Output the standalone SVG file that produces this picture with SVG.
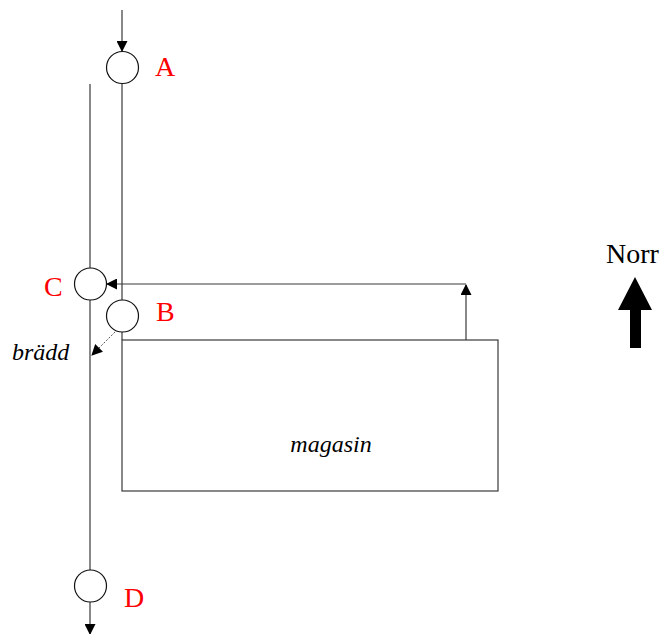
<svg xmlns="http://www.w3.org/2000/svg" width="667" height="634" viewBox="0 0 667 634">
  <style>
    .ln { stroke: #3a3a3a; stroke-width: 1.2; fill: none; }
    .dot { stroke: #555; stroke-width: 1; stroke-dasharray: 2 1.5; fill: none; }
    .node { fill: #fff; stroke: #111; stroke-width: 1.2; }
    .lbl { font-family: "Liberation Serif", "Times New Roman", serif; font-size: 28px; fill: #ff0000; }
    .it { font-family: "Liberation Serif", "Times New Roman", serif; font-size: 24px; font-style: italic; fill: #000; }
    .norr { font-family: "Liberation Serif", "Times New Roman", serif; font-size: 28px; fill: #000; }
  </style>
  <defs>
    <marker id="ah" markerWidth="11" markerHeight="11" refX="10" refY="5.5" orient="auto" markerUnits="userSpaceOnUse">
      <path d="M0,0 L11,5.5 L0,11 Z" fill="#000"/>
    </marker>
  </defs>

  <!-- storage block -->
  <g id="magasin">
    <rect x="122" y="340" width="376" height="151" class="ln"/>
    <text x="331" y="452" class="it" text-anchor="middle">magasin</text>
  </g>

  <!-- connectors -->
  <g id="connectors">
    <!-- inflow to A -->
    <line x1="122" y1="10" x2="122" y2="51" class="ln" marker-end="url(#ah)"/>
    <!-- A down to B -->
    <line x1="122" y1="83" x2="122" y2="300" class="ln"/>
    <!-- B down to block -->
    <line x1="122" y1="332" x2="122" y2="340" class="ln"/>
    <!-- left channel down to C -->
    <line x1="90" y1="84" x2="90" y2="268" class="ln"/>
    <!-- C down to D -->
    <line x1="90" y1="300" x2="90" y2="570" class="ln"/>
    <!-- outflow from D -->
    <line x1="90" y1="602" x2="90" y2="634" class="ln" marker-end="url(#ah)"/>
    <!-- block up to return line -->
    <line x1="466" y1="340" x2="466" y2="285" class="ln" marker-end="url(#ah)"/>
    <!-- return line to C -->
    <line x1="466" y1="284" x2="107" y2="284" class="ln" marker-end="url(#ah)"/>
    <!-- overflow from B -->
    <line x1="115" y1="332" x2="92" y2="355" class="dot" marker-end="url(#ah)"/>
  </g>

  <g id="A">
    <circle cx="122.5" cy="67.5" r="16" class="node"/>
    <text x="155" y="76" class="lbl">A</text>
  </g>
  <g id="B">
    <circle cx="122.5" cy="316" r="16" class="node"/>
    <text x="156" y="321" class="lbl">B</text>
  </g>
  <g id="C">
    <circle cx="90.5" cy="284" r="16" class="node"/>
    <text x="44" y="296" class="lbl">C</text>
  </g>
  <g id="D">
    <circle cx="90.5" cy="586" r="16" class="node"/>
    <text x="124" y="607" class="lbl">D</text>
  </g>

  <text x="12" y="360" class="it">brädd</text>

  <!-- north indicator -->
  <g id="norr">
    <text x="606" y="263" class="norr">Norr</text>
    <path d="M635,277 L652,310 L641,310 L641,348 L630,348 L630,310 L618,310 Z" fill="#000"/>
  </g>
</svg>
